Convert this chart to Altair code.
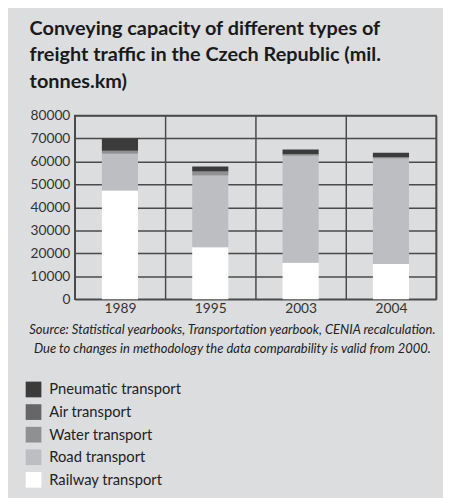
import altair as alt
import pandas as pd

years = ["1989", "1995", "2003", "2004"]
modes = ["Pneumatic transport", "Air transport", "Water transport",
         "Road transport", "Railway transport"]
colors = ["#3b3b3c", "#666668", "#8f9092", "#bdbec1", "#ffffff"]

railway = [47300, 22600, 15900, 15300]
road = [16100, 31300, 46600, 46000]
water = [1200, 1700, 600, 500]
air = [30, 50, 30, 30]
pneumatic = [5400, 2100, 2100, 1900]

y_ticks = [0, 10000, 20000, 30000, 40000, 50000, 60000, 70000, 80000]

title_lines = ["Conveying capacity of different types of",
               "freight traffic in the Czech Republic (mil.",
               "tonnes.km)"]
note_lines = ["Source: Statistical yearbooks, Transportation yearbook, CENIA recalculation.",
              "Due to changes in methodology the data comparability is valid from 2000."]

series = [("Railway transport", railway), ("Road transport", road),
          ("Water transport", water), ("Air transport", air),
          ("Pneumatic transport", pneumatic)]
rows = []
for k, (name, vals) in enumerate(series):
    for yr, v in zip(years, vals):
        rows.append({"year": yr, "mode": name, "value": v, "ord": k})
df = pd.DataFrame(rows)

GRID = "#4a4a4a"

chart = alt.Chart(df).mark_bar(width={"band": 0.4}).encode(
    x=alt.X("year:N", sort=years,
            scale=alt.Scale(paddingInner=0, paddingOuter=0),
            axis=alt.Axis(title=note_lines, labelAngle=0, ticks=False, domain=False,
                          grid=True, tickBand="extent", gridColor=GRID, gridWidth=1.5,
                          labelFont="Lato", labelFontSize=14, labelColor="#333333",
                          labelPadding=3,
                          titleFont="Lato", titleFontStyle="italic",
                          titleFontWeight="normal", titleFontSize=13.2,
                          titleColor="#222222", titleLineHeight=19,
                          titleAlign="center", titleAnchor="start",
                          titleX=160, titleY=25, titleBaseline="top")),
    y=alt.Y("value:Q", stack="zero",
            scale=alt.Scale(domain=[0, 80000], nice=False),
            axis=alt.Axis(title=None, values=y_ticks, format="d", ticks=False,
                          domain=False, grid=True, gridColor=GRID, gridWidth=1.5,
                          labelFont="Lato", labelFontSize=14, labelColor="#333333",
                          labelPadding=5)),
    color=alt.Color("mode:N", scale=alt.Scale(domain=modes, range=colors),
                    legend=alt.Legend(title=None, orient="none", legendX=-50, legendY=271,
                                      symbolType="square", symbolSize=256,
                                      symbolStrokeWidth=0, symbolOpacity=1,
                                      labelFont="Lato", labelFontSize=15,
                                      labelColor="#222222", labelOffset=8,
                                      rowPadding=7)),
    order=alt.Order("ord:Q", sort="ascending"),
).properties(
    width=368, height=187,
    autosize=alt.AutoSizeParams(type="none"),
    padding={"left": 68, "top": 105, "right": 7, "bottom": 198},
    title=alt.TitleParams(text=title_lines, anchor="start", font="Lato",
                          fontWeight="bold", fontSize=20.2, color="#1a1a1a",
                          lineHeight=27, dx=4, offset=17),
).configure(background="#dcdddf").configure_view(stroke=GRID, strokeWidth=1.5)

chart.save("out.html", embed_options={"renderer": "svg", "actions": False})
